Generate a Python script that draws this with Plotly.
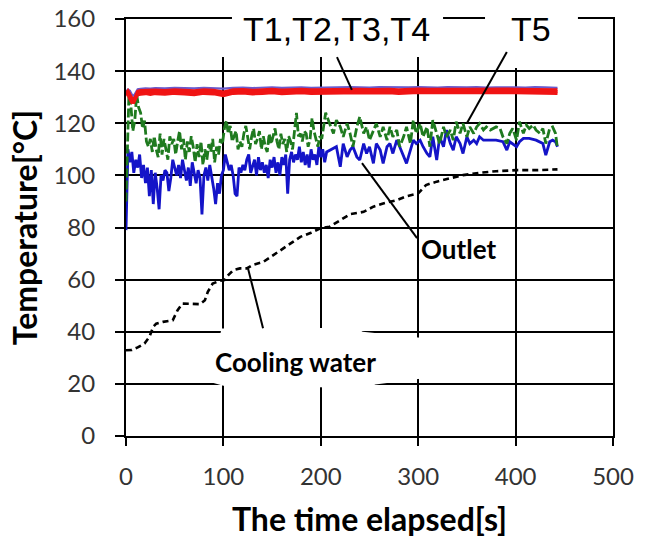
import plotly.graph_objects as go

# ---- Heater thermocouples T1-T4 (°C) ----
t_heat = [0, 2, 4, 6, 8, 10, 12, 15, 20, 25, 30, 40, 50, 60, 70, 80, 90, 100, 110, 120,
          130, 140, 150, 160, 170, 180, 190, 200, 210, 220, 230, 240, 250, 260, 270, 280,
          290, 300, 310, 320, 330, 340, 350, 360, 370, 380, 390, 400, 410, 420, 430, 443]
T1 = [132.0, 133.0, 132.5, 131.0, 130.5, 132.0, 133.0, 133.2, 133.4, 133.3, 133.5, 133.4, 133.6,
      133.5, 133.4, 133.6, 133.5, 133.3, 133.6, 133.7, 133.5, 133.6, 133.8, 133.6, 133.7, 133.8,
      133.6, 133.7, 133.8, 133.7, 133.9, 133.8, 133.7, 133.9, 133.8, 133.7, 133.8, 133.9, 133.8,
      133.7, 133.9, 133.8, 133.8, 133.9, 133.7, 133.8, 133.9, 133.8, 133.7, 133.9, 133.8, 133.6]
T2 = [131.5, 132.4, 131.0, 129.5, 128.5, 130.5, 132.2, 132.5, 132.6, 132.4, 132.7, 132.5, 132.8,
      132.6, 132.4, 132.8, 132.6, 132.0, 132.8, 132.9, 132.6, 132.8, 133.0, 132.7, 132.9, 133.0,
      132.8, 132.9, 133.0, 132.8, 133.1, 133.0, 132.9, 133.1, 133.0, 132.8, 133.0, 133.1, 133.0,
      132.9, 133.1, 133.0, 133.0, 133.1, 132.9, 133.0, 133.1, 133.0, 132.9, 133.1, 133.0, 132.8]
T3 = [131.0, 131.8, 130.0, 128.2, 128.0, 129.8, 131.5, 131.8, 132.0, 131.7, 132.0, 131.8, 132.1,
      131.9, 131.6, 132.1, 131.9, 131.2, 132.1, 132.2, 131.9, 132.1, 132.3, 132.0, 132.2, 132.3,
      132.1, 132.2, 132.3, 132.1, 132.4, 132.3, 132.2, 132.4, 132.3, 132.1, 132.3, 132.4, 132.3,
      132.2, 132.4, 132.3, 132.3, 132.4, 132.2, 132.3, 132.4, 132.3, 132.2, 132.4, 132.3, 132.1]
T4 = [130.8, 131.2, 129.3, 128.0, 128.4, 130.0, 131.0, 131.2, 131.4, 131.1, 131.4, 131.2, 131.5,
      131.3, 131.0, 131.5, 131.3, 130.6, 131.5, 131.6, 131.3, 131.5, 131.7, 131.4, 131.6, 131.7,
      131.5, 131.6, 131.7, 131.5, 131.8, 131.7, 131.6, 131.8, 131.7, 131.5, 131.7, 131.8, 131.7,
      131.6, 131.8, 131.7, 131.7, 131.8, 131.6, 131.7, 131.8, 131.7, 131.6, 131.8, 131.7, 131.5]

# ---- T5 (°C) ----
t_T5 = [0, 1, 2, 3, 5, 7, 9, 11, 13, 15, 17, 19, 21, 23, 25, 27, 29, 31, 33, 35, 37, 39, 41, 43,
        45, 47, 49, 51, 53, 55, 57, 59, 61, 63, 65, 67, 69, 71, 73, 75, 77, 79, 81, 83, 85, 87,
        89, 91, 93, 95, 97, 99, 101, 103, 105, 107, 109, 111, 113, 115, 117, 119, 121, 123, 125,
        127, 129, 131, 133, 135, 137, 139, 141, 143, 145, 147, 149, 151, 153, 155, 157, 159, 161,
        163, 165, 167, 169, 171, 173, 175, 177, 179, 181, 183, 185, 187, 189, 191, 193, 195, 197,
        199, 201, 203, 205, 209, 213, 216, 220, 223, 227, 230, 233, 237, 240, 244, 247, 250, 254,
        257, 261, 264, 268, 271, 274, 278, 281, 285, 288, 292, 295, 298, 302, 305, 309, 312, 315,
        319, 322, 326, 329, 333, 336, 339, 343, 346, 350, 353, 357, 360, 363, 367, 370, 374, 377,
        380, 384, 387, 391, 394, 397, 401, 404, 408, 411, 414, 418, 421, 425, 428, 431, 435, 438,
        441, 443]
T5 = [90, 104, 120, 131, 127, 117, 121, 131, 126, 124, 118, 121, 113, 111, 114, 109, 115, 110,
      107, 116, 108, 114, 110, 106, 115, 112, 114, 108, 113, 117, 110, 114, 106, 113, 109, 115,
      111, 105, 112, 107, 113, 104, 110, 106, 112, 109, 114, 105, 111, 108, 114, 112, 118, 121,
      116, 119, 113, 115, 117, 110, 113, 111, 116, 119, 114, 110, 115, 118, 112, 114, 117, 110,
      115, 111, 109, 116, 112, 115, 118, 113, 110, 116, 112, 114, 109, 115, 113, 110, 118, 124,
      115, 116, 113, 117, 116, 111, 114, 122, 117, 114, 111, 115, 114, 119, 124, 119.9, 116.1,
      121.2, 118.6, 114.8, 119.9, 116.1, 111.0, 118.6, 122.5, 116.1, 118.6, 113.5, 117.4, 119.9,
      114.8, 118.6, 113.5, 118.6, 114.8, 117.4, 111.0, 114.8, 118.6, 112.2, 121.2, 116.1, 119.9,
      114.8, 118.6, 111.0, 121.2, 116.1, 112.2, 118.6, 114.8, 117.4, 113.5, 120.6, 116.1, 119.9,
      114.8, 118.6, 116.1, 118.6, 119.9, 117.4, 118.6, 117.4, 118.0, 118.6, 118.0, 114.8, 112.2,
      116.1, 118.0, 113.5, 120.6, 116.1, 119.3, 118.0, 119.3, 117.4, 116.1, 118.0, 112.2, 118.0,
      118.6, 116.1, 110.3]

# ---- Outlet (°C) ----
t_out = [0, 1, 2, 4, 6, 8, 10, 12, 14, 16, 18, 20, 22, 24, 26, 28, 30, 32, 34, 36, 38, 40, 42,
         44, 46, 48, 50, 52, 54, 56, 58, 60, 62, 64, 66, 68, 70, 72, 74, 76, 78, 80, 82, 84, 86,
         88, 90, 92, 94, 96, 98, 100, 102, 104, 106, 108, 110, 112, 114, 116, 118, 120, 122, 124,
         126, 128, 130, 132, 134, 136, 138, 140, 142, 144, 146, 148, 150, 152, 154, 156, 158, 160,
         162, 164, 166, 168, 170, 172, 174, 176, 178, 180, 182, 184, 186, 188, 190, 192, 194, 196,
         198, 200, 202, 204, 206, 209, 216, 220, 223, 227, 230, 233, 237, 240, 244, 247, 250, 254,
         257, 261, 264, 268, 271, 274, 278, 281, 285, 288, 292, 295, 298, 302, 305, 309, 312, 315,
         319, 322, 326, 329, 333, 336, 339, 343, 346, 350, 353, 357, 360, 363, 367, 374, 380, 387,
         391, 394, 401, 404, 408, 414, 421, 428, 431, 435, 438, 441, 443]
T_out = [79, 95, 110, 105, 109, 101, 106, 103, 108, 99, 104, 97, 103, 92, 102, 89, 101, 95, 87,
         100, 98, 102, 101, 94, 99, 106, 103, 100, 104, 99, 106, 102, 98, 103, 96, 105, 101, 97,
         102, 99, 85, 100, 103, 98, 104, 100, 95, 89, 97, 93, 100, 102, 108, 105, 102, 104, 100,
         93, 92, 103, 101, 104, 102, 106, 108, 101, 104, 106, 100, 107, 102, 105, 101, 104, 99,
         106, 103, 107, 101, 105, 100, 107, 104, 108, 93, 106, 109, 105, 108, 106, 111, 105, 109,
         104, 108, 103, 110, 106, 108, 104, 111, 107, 110, 105, 109, 109.7, 111.0, 103.3, 112.2,
         107.1, 109.7, 111.0, 107.1, 105.9, 112.2, 108.4, 111.0, 104.6, 112.2, 109.7, 104.6, 111.0,
         112.2, 108.4, 113.5, 111.0, 107.1, 104.6, 109.7, 113.5, 112.2, 113.5, 111.0, 108.4, 107.1,
         114.8, 105.9, 114.8, 111.0, 117.4, 112.2, 109.7, 114.8, 112.2, 108.4, 114.8, 112.2, 113.5,
         112.2, 114.8, 113.5, 113.5, 113.5, 112.9, 109.7, 112.9, 111.0, 112.9, 114.2, 114.2, 113.5,
         112.2, 107.8, 112.9, 113.5, 112.9, 111.0]

# ---- Cooling water (°C) ----
t_cool = [0, 6, 12, 19, 24, 28, 31, 38, 48, 53, 58, 65, 76, 81, 84, 89, 96, 101, 105, 110, 117,
          124, 130, 141, 150, 160, 170, 179, 190, 199, 209, 220, 230, 244, 254, 264, 278, 288,
          300, 308, 319, 333, 346, 363, 380, 401, 421, 443]
T_cool = [32.9, 33.0, 34.0, 35.5, 38.0, 41.9, 43.1, 43.8, 44.4, 48.3, 50.8, 50.8, 50.6, 52.1,
          55.3, 58.5, 59.5, 59.8, 61.7, 63.6, 64.3, 64.3, 65.6, 66.8, 69.0, 71.5, 74.0, 76.4,
          78.0, 79.6, 80.3, 82.8, 85.1, 86.0, 88.0, 89.2, 90.5, 92.0, 93.1, 96.3, 97.6, 98.9,
          100.1, 101.0, 101.6, 102.0, 102.0, 102.3]

# ---- Axis ticks ----
x_ticks = [0, 100, 200, 300, 400, 500]
y_ticks = [0, 20, 40, 60, 80, 100, 120, 140, 160]

# ---- Label callouts: text, text position, leader start, leader end ----
callouts = [
    ("T1,T2,T3,T4", (216.6, 156.2), (216.6, 145.4), (231.9, 132.8)),
    ("T5", (415.8, 156.2), (391.0, 147.3), (350.0, 120.0)),
    ("Outlet", (340.9, 71.8), (242.3, 104.7), (298.8, 75.9)),
    ("Cooling water", (174.5, 28.3), (125.3, 64.3), (140.7, 41.3)),
]

BLUE = "#1414c8"
GREEN = "#1f7a1f"
RED = "#f01414"

fig = go.Figure()
fig.add_trace(go.Scatter(x=t_cool, y=T_cool, mode="lines", name="Cooling water",
                         line=dict(color="black", width=2.6, dash="6px,4px")))
fig.add_trace(go.Scatter(x=t_out, y=T_out, mode="lines", name="Outlet",
                         line=dict(color=BLUE, width=2.8)))
fig.add_trace(go.Scatter(x=t_T5, y=T5, mode="lines", name="T5",
                         line=dict(color=GREEN, width=2.8, dash="9px,3px")))
fig.add_trace(go.Scatter(x=t_heat, y=T1, mode="lines", name="T1",
                         line=dict(color="#6a5acd", width=2.2)))
for name, vals in (("T2", T2), ("T3", T3), ("T4", T4)):
    fig.add_trace(go.Scatter(x=t_heat, y=vals, mode="lines", name=name,
                             line=dict(color=RED, width=3.2)))

shapes = []
# white patches behind the callout texts (hide grid lines)
shapes.append(dict(type="rect", xref="x", yref="y", x0=80, x1=330, y0=145.4, y1=160,
                   fillcolor="white", line=dict(width=0), layer="between"))
shapes.append(dict(type="rect", xref="x", yref="y", x0=353, x1=486, y0=141.2, y1=160,
                   fillcolor="white", line=dict(width=0), layer="between"))
shapes.append(dict(type="path", xref="x", yref="y",
                   path="M 98,41.2 L 236,41.5 L 243,40 L 312,37.3 L 312,22.4 L 256,19.8 "
                        "L 248,18.4 L 100,19.3 L 88,20.5 L 92,30 Z",
                   fillcolor="white", line=dict(width=0), layer="between"))
# gaps in the top frame line where the labels sit
shapes.append(dict(type="rect", xref="x", yref="paper", x0=108.8, x1=325.5, y0=0.985, y1=1.02,
                   fillcolor="white", line=dict(width=0), layer="above"))
shapes.append(dict(type="rect", xref="x", yref="paper", x0=368.6, x1=464.0, y0=0.985, y1=1.02,
                   fillcolor="white", line=dict(width=0), layer="above"))

annotations = []
for text, (tx, ty), (x0, y0), (x1, y1) in callouts:
    shapes.append(dict(type="line", xref="x", yref="y", x0=x0, y0=y0, x1=x1, y1=y1,
                       line=dict(color="black", width=2), layer="above"))
    if text.startswith("T"):
        font = dict(family="Liberation Sans, Arial, sans-serif", size=34, color="black")
    else:
        font = dict(family="Lato, sans-serif", size=26, color="black", weight="bold")
    annotations.append(dict(x=tx, y=ty, xref="x", yref="y", text=text, showarrow=False,
                            xanchor="center", yanchor="middle", font=font))

axis_common = dict(showgrid=True, gridcolor="black", gridwidth=2,
                   showline=True, linecolor="black", linewidth=2, mirror=True,
                   ticks="outside", tickcolor="black", tickwidth=2,
                   zeroline=False, automargin=False,
                   tickfont=dict(family="Lato, sans-serif", size=24, color="#333333"))

fig.update_layout(
    width=653, height=539,
    margin=dict(l=126, r=40, t=19, b=103, autoexpand=False),
    paper_bgcolor="white", plot_bgcolor="white",
    showlegend=False,
    shapes=shapes, annotations=annotations,
    xaxis=dict(range=[0, 500], tickvals=x_ticks, ticklabelstandoff=10, ticklen=8,
               title=dict(text="The time elapsed[s]", standoff=20,
                          font=dict(family="Lato, sans-serif", size=32, color="black",
                                    weight="bold")),
               **axis_common),
    yaxis=dict(range=[0, 160], tickvals=y_ticks, ticklabelstandoff=15, ticklen=9,
               title=dict(text="Temperature[°C]", standoff=6,
                          font=dict(family="Lato, sans-serif", size=32, color="black",
                                    weight="bold")),
               **axis_common),
)

fig.write_html("out.html")
